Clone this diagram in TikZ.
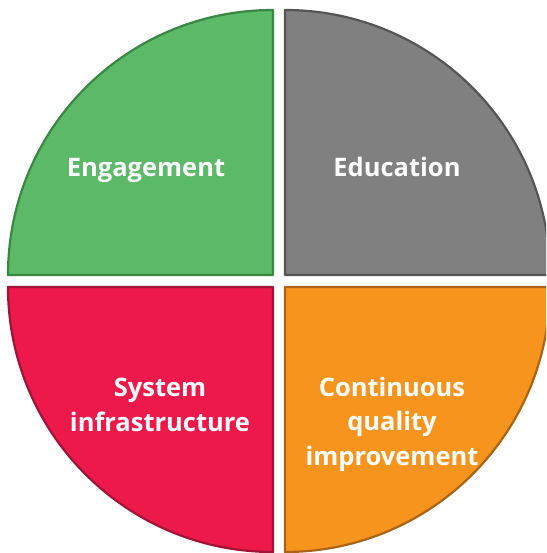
\documentclass[tikz,border=0pt]{standalone}
\usepackage{fontspec}
\newfontfamily\labelfont{Open Sans}
\definecolor{engfill}{RGB}{91,185,104}
\definecolor{engline}{RGB}{58,135,68}
\definecolor{edufill}{RGB}{128,128,128}
\definecolor{eduline}{RGB}{85,85,85}
\definecolor{sysfill}{RGB}{238,25,75}
\definecolor{sysline}{RGB}{160,20,55}
\definecolor{cqifill}{RGB}{246,148,30}
\definecolor{cqiline}{RGB}{170,100,20}
\tikzset{
  quarter/.style={line width=2.2pt, line join=round},
  quartertext/.style={text=white, align=center, anchor=base, inner sep=0pt,
    font=\labelfont\bfseries\fontsize{25.5}{34.5}\selectfont}
}
\begin{document}
\begin{tikzpicture}[x=1pt,y=1pt]
  \pgfmathsetmacro{\radius}{265}
  \pgfmathsetmacro{\gap}{6}
  \useasboundingbox (-279,-272) rectangle (267,281);
  \clip (-279,-272) rectangle (267,281);
  \draw[quarter, fill=engfill, draw=engline] (-\gap,\gap) -- +(90:\radius) arc (90:180:\radius) -- cycle;
  \draw[quarter, fill=edufill, draw=eduline] (\gap,\gap) -- +(0:\radius) arc (0:90:\radius) -- cycle;
  \draw[quarter, fill=sysfill, draw=sysline] (-\gap,-\gap) -- +(180:\radius) arc (180:270:\radius) -- cycle;
  \draw[quarter, fill=cqifill, draw=cqiline] (\gap,-\gap) -- +(270:\radius) arc (270:360:\radius) -- cycle;
  % labels
  \node[quartertext] (engagement) at (-133,104) {Engagement};
  \node[quartertext] (education) at (118,104) {Education};
  \node[quartertext] (system) at (-119,-150) {System\\infrastructure};
  \node[quartertext] (cqi) at (113,-184) {Continuous\\quality\\improvement};
\end{tikzpicture}
\end{document}
